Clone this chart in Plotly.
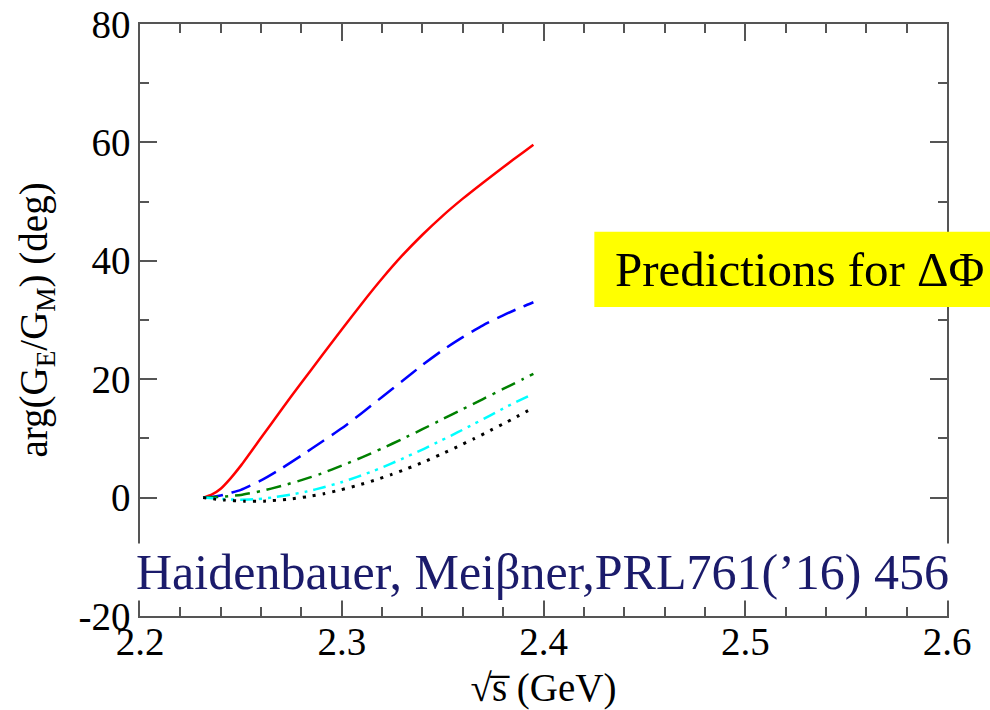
import plotly.graph_objects as go

# ---- data ----
grid_x = [2.2313, 2.2355, 2.24, 2.245, 2.25, 2.26, 2.27, 2.28, 2.29, 2.30, 2.31, 2.32, 2.33, 2.34, 2.35, 2.36, 2.37, 2.38, 2.39, 2.395]

red_y = [0.0, 0.5, 1.5, 3.3, 5.4, 10.1, 14.8, 19.4, 23.9, 28.4, 32.8, 37.0, 40.9, 44.4, 47.6, 50.5, 53.2, 55.8, 58.35, 59.6]
blue_y = [0.0, 0.1, 0.35, 0.8, 1.3, 2.9, 4.9, 7.1, 9.4, 11.7, 14.3, 17.0, 19.7, 22.4, 24.9, 27.1, 29.1, 30.8, 32.3, 33.0]
green_y = [0.0, 0.04, 0.13, 0.27, 0.45, 1.1, 1.96, 2.95, 4.07, 5.4, 6.8, 8.3, 9.9, 11.55, 13.25, 14.95, 16.65, 18.35, 20.05, 20.9]

cyan_x = [2.2313, 2.2415, 2.2498, 2.2581, 2.2663, 2.2746, 2.2829, 2.2911, 2.2994, 2.3077, 2.3160, 2.3242, 2.3325, 2.3408, 2.3490, 2.3573, 2.3656, 2.3737, 2.3820, 2.3935]
cyan_y = [0.0, -0.25, -0.35, -0.25, 0.05, 0.5, 1.05, 1.75, 2.55, 3.5, 4.55, 5.7, 6.95, 8.25, 9.6, 11.0, 12.45, 13.9, 15.4, 17.3]

black_x = [2.2313, 2.2415, 2.2515, 2.2615, 2.2730, 2.2829, 2.2911, 2.2994, 2.3077, 2.3160, 2.3242, 2.3325, 2.3408, 2.3490, 2.3573, 2.3656, 2.3737, 2.3820, 2.3951]
black_y = [0.0, -0.4, -0.6, -0.6, -0.3, 0.15, 0.65, 1.3, 2.05, 2.9, 3.85, 4.9, 6.05, 7.3, 8.6, 9.95, 11.35, 12.8, 15.2]

x_ticks = [2.2, 2.3, 2.4, 2.5, 2.6]
x_tick_labels = ["2.2", "2.3", "2.4", "2.5", "2.6"]
y_ticks = [-20, 0, 20, 40, 60, 80]
y_tick_labels = ["-20", "0", "20", "40", "60", "80"]

SERIF = "Liberation Serif"
AXC = "#555555"

fig = go.Figure()
fig.add_trace(go.Scatter(x=grid_x, y=red_y, mode="lines", line=dict(color="#ff0000", width=2.5, shape="spline", smoothing=0.6)))
fig.add_trace(go.Scatter(x=grid_x, y=blue_y, mode="lines", line=dict(color="#0000ff", width=2.5, dash="20px,9px", shape="spline", smoothing=0.6)))
fig.add_trace(go.Scatter(x=grid_x, y=green_y, mode="lines", line=dict(color="#008000", width=2.5, dash="15px,7px,3px,7px", shape="spline", smoothing=0.6)))
fig.add_trace(go.Scatter(x=cyan_x, y=cyan_y, mode="lines", line=dict(color="#00ffff", width=2.5, dash="13px,6px,3px,6px,3px,6px", shape="spline", smoothing=0.6)))
fig.add_trace(go.Scatter(x=black_x, y=black_y, mode="lines", line=dict(color="#000000", width=3, dash="3px,7px", shape="spline", smoothing=0.6)))

axis_common = dict(
    showline=True, linecolor=AXC, linewidth=1.5, mirror="allticks",
    ticks="inside", ticklen=17, tickwidth=1.5, tickcolor=AXC,
    showgrid=False, zeroline=False, automargin=False,
    tickfont=dict(family=SERIF, size=39, color="black"),
)

fig.update_xaxes(
    range=[2.2, 2.6], tickvals=x_ticks, ticktext=x_tick_labels,
    ticklabelstandoff=-10,
    minor=dict(ticks="inside", ticklen=9, dtick=0.02, tickwidth=1.5, tickcolor=AXC, showgrid=False),
    title=dict(text="√s\u0305 (GeV)", font=dict(family=SERIF, size=39, color="black"), standoff=13),
    **axis_common,
)
fig.update_yaxes(
    range=[-20, 80], tickvals=y_ticks, ticktext=y_tick_labels,
    minor=dict(ticks="inside", ticklen=9, dtick=10, tickwidth=1.5, tickcolor=AXC, showgrid=False),
    title=dict(text="arg(G<sub>E</sub>/G<sub>M</sub>) (deg)", font=dict(family=SERIF, size=39, color="black"), standoff=19),
    **axis_common,
)

# yellow box behind the prediction label
fig.add_shape(type="rect", xref="paper", yref="paper",
              x0=0.563, x1=1.07, y0=0.522, y1=0.649,
              fillcolor="#ffff00", line=dict(width=0), layer="above")
fig.add_annotation(
    xref="paper", yref="paper", x=0.587, y=0.585, xanchor="left", yanchor="middle",
    text="Predictions for ΔΦ", showarrow=False, align="left",
    font=dict(family=SERIF, size=49, color="black"), borderpad=0,
)
fig.add_annotation(
    xref="paper", yref="paper", x=0.499, y=0.074, xanchor="center", yanchor="middle",
    text="Haidenbauer, Meiβner,PRL761(’16) 456", showarrow=False,
    font=dict(family=SERIF, size=50, color="#1b1b6b"),
    bgcolor="white", borderpad=0,
)

fig.update_layout(
    template="none",
    font=dict(family=SERIF, color="black"),
    width=990, height=710,
    margin=dict(l=139.5, r=43.3, t=24, b=94),
    paper_bgcolor="white", plot_bgcolor="white",
    showlegend=False,
)

fig.write_html("out.html")
